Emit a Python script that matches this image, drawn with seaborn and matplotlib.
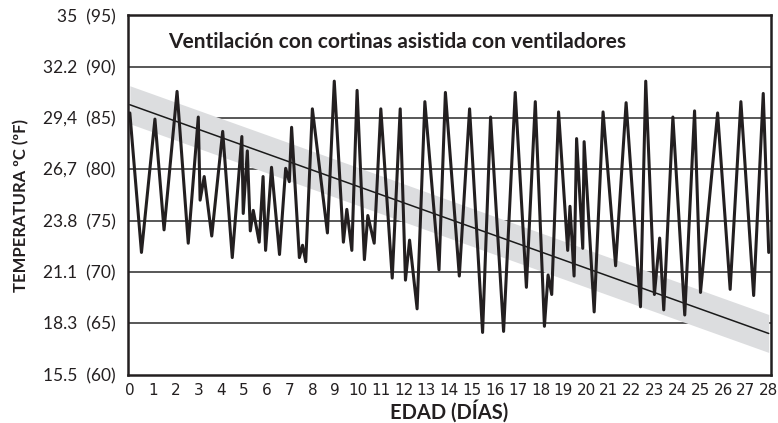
import matplotlib
matplotlib.use("Agg")
import matplotlib.pyplot as plt
import numpy as np
import pandas as pd
import seaborn as sns

# daily temperature trace (x in days, y in deg F)
dias = [0.0, 0.51, 1.10, 1.50, 2.07, 2.56, 3.00, 3.08, 3.26, 3.59, 4.07, 4.49,
        4.91, 4.97, 5.15, 5.28, 5.41, 5.67, 5.84, 5.95, 6.21, 6.56, 6.83, 6.99,
        7.09, 7.43, 7.57, 7.71, 8.00, 8.66, 8.96, 9.36, 9.51, 9.73, 9.96, 10.28,
        10.43, 10.71, 11.00, 11.50, 11.85, 12.08, 12.26, 12.59, 12.93, 13.55,
        13.83, 14.44, 14.89, 15.46, 15.81, 16.38, 16.89, 17.38, 17.77, 18.17,
        18.33, 18.49, 18.79, 19.19, 19.29, 19.47, 19.58, 19.85, 19.91, 20.35,
        20.74, 21.29, 21.75, 22.38, 22.61, 22.99, 23.22, 23.40, 23.80, 24.32,
        24.75, 25.01, 25.76, 26.31, 26.78, 27.34, 27.76, 28.0]
temp_f = [85.5, 71.9, 84.9, 74.1, 87.6, 72.8, 85.1, 77.0, 79.3, 73.5, 83.7, 71.4,
          83.2, 75.7, 81.8, 74.0, 76.0, 72.9, 79.3, 72.1, 80.2, 71.7, 80.1, 78.8,
          84.1, 71.4, 72.6, 71.0, 85.9, 73.8, 88.6, 72.9, 76.1, 72.1, 87.7, 71.2,
          75.5, 72.8, 85.9, 69.4, 85.9, 69.2, 73.1, 66.4, 86.6, 70.2,
          87.5, 69.6, 85.9, 64.1, 85.1, 64.2, 87.5, 68.5, 86.6, 64.7,
          69.7, 67.8, 85.6, 72.1, 76.4, 69.6, 83.0, 72.3, 82.7, 66.1,
          85.6, 70.6, 86.5, 66.6, 88.6, 67.8, 73.3, 66.3, 85.1, 65.8,
          85.7, 68.0, 85.5, 68.3, 86.6, 67.7, 87.4, 71.9]

# trend line and its shaded band
trend_x = [0, 28]
trend_y = [86.3, 64.0]
band_half = 1.85

# axis labels
tick_f = [60, 65, 70, 75, 80, 85, 90, 95]
tick_c = ["15.5", "18.3", "21.1", "23.8", "26,7", "29,4", "32.2", "35"]
dias_ticks = list(range(0, 29))

titulo = "Ventilación con cortinas asistida con ventiladores"

sns.set_style("white")
plt.rcParams["font.family"] = ["Lato", "DejaVu Sans"]

fig = plt.figure(figsize=(7.78, 4.23), dpi=100)
ax = fig.add_axes([128 / 778, 1 - 374.5 / 423, (771 - 128) / 778, (374.5 - 15.5) / 423])

for f in tick_f[1:-1]:
    ax.axhline(f, color="#4a4a4a", lw=1.3, zorder=1)

tx = np.array(trend_x, dtype=float)
ty = np.array(trend_y, dtype=float)
ax.fill_between(tx, ty - band_half, ty + band_half, color="#dcdddf", lw=0, zorder=2)

trend = pd.DataFrame({"x": trend_x, "y": trend_y})
sns.lineplot(data=trend, x="x", y="y", ax=ax, color="#1a1a1a", lw=1.1, zorder=3)

df = pd.DataFrame({"dia": dias, "temp": temp_f})
sns.lineplot(data=df, x="dia", y="temp", ax=ax, color="#231f20", lw=2.2,
             sort=False, zorder=4)

ax.set_xlim(-0.08, 28.1)
ax.set_ylim(60, 95)
ax.set_xticks(dias_ticks)
ax.set_xticklabels([str(d) for d in dias_ticks],
                   family=["Liberation Sans Narrow", "DejaVu Sans"], fontsize=11)
ax.set_yticks(tick_f)
ax.set_yticklabels([f"{c}  ({f})" for c, f in zip(tick_c, tick_f)], fontsize=12.5)
ax.tick_params(axis="both", length=0, pad=6, colors="#231f20")
ax.tick_params(axis="y", pad=9)

for s in ax.spines.values():
    s.set_visible(True)
    s.set_color("#231f20")
    s.set_linewidth(1.8)

ax.set_xlabel("EDAD (DÍAS)", fontsize=14.5, fontweight="bold", color="#231f20")
ax.xaxis.set_label_coords(0.5, -0.07)
ax.set_ylabel("TEMPERATURA ºC (ºF)", fontsize=12, fontweight="bold", color="#231f20")
ax.yaxis.set_label_coords(-0.154, 0.472)

ax.text(0.062, 0.925, titulo, transform=ax.transAxes, fontsize=15,
        fontweight="bold", color="#231f20", va="center", ha="left", zorder=5)

ax.set_facecolor("white")
fig.savefig("out.png", dpi=100)
